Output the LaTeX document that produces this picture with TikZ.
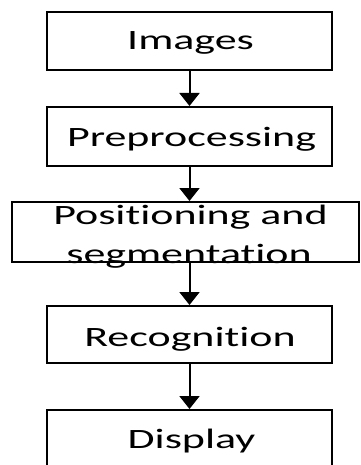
\documentclass[tikz,border=0pt]{standalone}
\usepackage{fontspec}
\setmainfont{Carlito}[FakeStretch=1.57,Ligatures=NoCommon]
\usetikzlibrary{arrows.meta}
\begin{document}
\begin{tikzpicture}[x=1pt,y=-1pt,
  box/.style={draw,line width=2pt,inner sep=0pt,minimum width=285pt},
  lbl/.style={font=\fontsize{28}{34}\selectfont,inner sep=0pt,anchor=base},
  flow/.style={line width=2pt,-{Triangle[width=20pt,length=13pt]}}]
\useasboundingbox (0,0) rectangle (360,465);
\node[box,minimum height=58pt] (img) at (189.5,41) {};
\node[lbl] at (190.5,50) {Images};
\node[box,minimum height=59pt] (pre) at (189.5,136.5) {};
\node[lbl] at (191.5,146.5) {Preprocessing};
\node[box,minimum width=347pt,minimum height=60pt] (pos) at (185.5,232) {};
\node[lbl] at (190.5,224.5) {Positioning and};
\node[lbl] at (189,263) {segmentation};
\node[box,minimum height=57pt] (rec) at (189.5,334.5) {};
\node[lbl] at (190,346.5) {Recognition};
\node[box,minimum height=59pt] (dis) at (189.5,439.5) {};
\node[lbl] at (191.5,448.5) {Display};
\draw[flow] (img.south) -- (pre.north);
\draw[flow] (pre.south) -- (pos.north -| pre.south);
\draw[flow] (pos.south -| pre.south) -- (rec.north);
\draw[flow] (rec.south) -- (dis.north);
\end{tikzpicture}
\end{document}
